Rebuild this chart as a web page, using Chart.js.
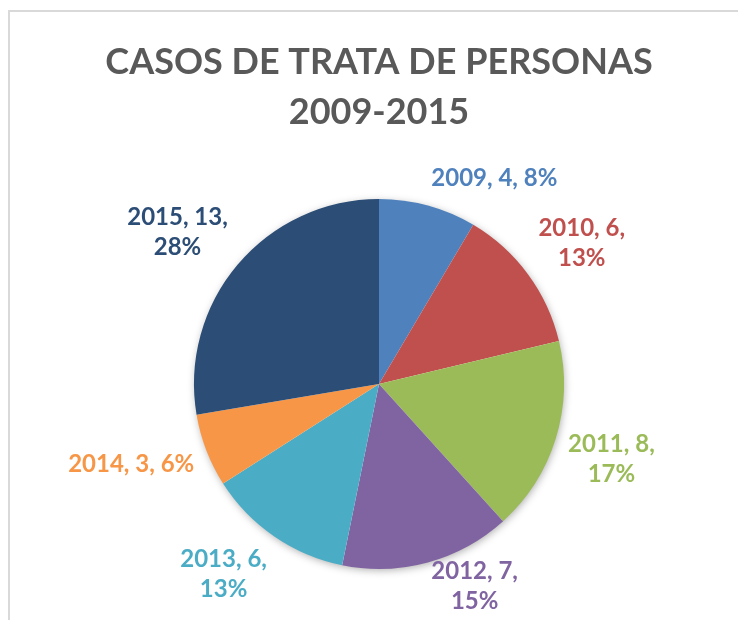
<!DOCTYPE html>
<html lang="es">
<head>
<meta charset="utf-8">
<title>Casos de trata de personas 2009-2015</title>
<script src="https://cdn.jsdelivr.net/npm/chart.js@4/dist/chart.umd.min.js"></script>
<style>
    html, body { margin: 0; padding: 0; background: #ffffff; }
    #wrap { width: 738px; height: 620px; }
</style>
</head>
<body>
<div id="wrap"><canvas id="pie-chart" width="738" height="620"></canvas></div>
<script>
// Data
const years = ['2009', '2010', '2011', '2012', '2013', '2014', '2015'];
const cases = [4, 6, 8, 7, 6, 3, 13];
const percents = [8, 13, 17, 15, 13, 6, 28];
const titleLines = ['CASOS DE TRATA DE PERSONAS', '2009-2015'];

// Office 2010 palette
const sliceColors = ['#4F81BD', '#C0504D', '#9BBB59', '#8064A2', '#4BACC6', '#F79646', '#2C4D75'];

const labelFont = 'bold 24px Lato, "Open Sans", sans-serif';
const titleFont = 'bold 36px Lato, "Open Sans", sans-serif';

// White background + the light grey chart frame
const framePlugin = {
    id: 'frame',
    beforeDraw(chart) {
        const ctx = chart.ctx;
        ctx.save();
        ctx.fillStyle = '#ffffff';
        ctx.fillRect(0, 0, chart.width, chart.height);
        ctx.strokeStyle = '#d9d9d9';
        ctx.lineWidth = 2;
        ctx.strokeRect(9, 11, chart.width + 50, chart.height + 50);
        ctx.restore();
    }
};

// Soft shadow under the whole pie
const shadowPlugin = {
    id: 'pieShadow',
    beforeDatasetsDraw(chart) {
        const arc = chart.getDatasetMeta(0).data[0];
        if (!arc) return;
        const ctx = chart.ctx;
        ctx.save();
        ctx.shadowColor = 'rgba(0,0,0,0.35)';
        ctx.shadowBlur = 8;
        ctx.shadowOffsetX = 1;
        ctx.shadowOffsetY = 2;
        ctx.fillStyle = '#ffffff';
        ctx.beginPath();
        ctx.arc(arc.x, arc.y, arc.outerRadius - 1, 0, Math.PI * 2);
        ctx.fill();
        ctx.restore();
    }
};

// Two-line title drawn over the pie centre
const titlePlugin = {
    id: 'bigTitle',
    afterDraw(chart) {
        const ctx = chart.ctx;
        const cx = (chart.chartArea.left + chart.chartArea.right) / 2;
        ctx.save();
        ctx.font = titleFont;
        ctx.fillStyle = '#595959';
        ctx.textAlign = 'center';
        ctx.textBaseline = 'alphabetic';
        titleLines.forEach((line, i) => {
            ctx.fillText(line, cx, 74 + i * 50);
        });
        ctx.restore();
    }
};

// "year, value, pct%" labels outside each slice, Excel "best fit" style
function wrapLabel(ctx, text, maxWidth) {
    const words = text.split(' ');
    const lines = [];
    let current = '';
    words.forEach(w => {
        const test = current ? current + ' ' + w : w;
        if (current && ctx.measureText(test).width > maxWidth) {
            lines.push(current);
            current = w;
        } else {
            current = test;
        }
    });
    if (current) lines.push(current);
    return lines;
}

const labelPlugin = {
    id: 'sliceLabels',
    afterDatasetsDraw(chart) {
        const ctx = chart.ctx;
        const meta = chart.getDatasetMeta(0);
        const lineHeight = 30;
        ctx.save();
        ctx.font = labelFont;
        ctx.textAlign = 'center';
        ctx.textBaseline = 'middle';
        meta.data.forEach((arc, i) => {
            const text = years[i] + ', ' + cases[i] + ', ' + percents[i] + '%';
            const lines = wrapLabel(ctx, text, 133);
            const w = Math.max(...lines.map(l => ctx.measureText(l).width));
            const h = lines.length * lineHeight;
            const mid = (arc.startAngle + arc.endAngle) / 2;
            const dx = Math.cos(mid);
            const dy = Math.sin(mid);
            const r = arc.outerRadius + 13;
            const ax = arc.x + dx * r;
            const ay = arc.y + dy * r;
            let cx = ax + Math.sign(dx) * w / 2;
            let cy = ay + Math.sign(dy) * Math.sqrt(Math.abs(dy)) * h / 2;
            // keep inside the canvas
            cy = Math.min(cy, chart.height - 4 - h / 2);
            ctx.fillStyle = sliceColors[i];
            lines.forEach((line, k) => {
                ctx.fillText(line, cx, cy - h / 2 + lineHeight * (k + 0.5));
            });
        });
        ctx.restore();
    }
};

const ctx = document.getElementById('pie-chart').getContext('2d');
new Chart(ctx, {
    type: 'pie',
    data: {
        labels: years,
        datasets: [{
            data: cases,
            backgroundColor: sliceColors,
            borderWidth: 0
        }]
    },
    options: {
        responsive: false,
        animation: false,
        layout: {
            padding: { left: 194, right: 174, top: 199, bottom: 51 }
        },
        plugins: {
            legend: { display: false },
            title: { display: false },
            tooltip: { enabled: false }
        }
    },
    plugins: [framePlugin, shadowPlugin, titlePlugin, labelPlugin]
});
</script>
</body>
</html>
